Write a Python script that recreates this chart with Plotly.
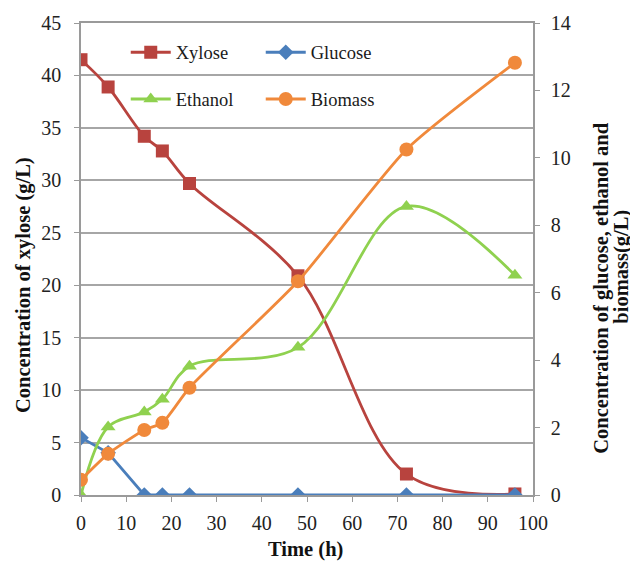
import plotly.graph_objects as go

time_h = [0, 6, 14, 18, 24, 48, 72, 96]
xylose = [41.5, 38.9, 34.2, 32.8, 29.7, 20.9, 2.0, 0.1]
glucose = [1.70, 1.25, 0.0, 0.0, 0.0, 0.0, 0.0, 0.0]
ethanol = [0.0, 2.02, 2.46, 2.84, 3.82, 4.38, 8.56, 6.52]
biomass = [0.45, 1.22, 1.93, 2.14, 3.18, 6.34, 10.25, 12.82]

x_title = "Time (h)"
y_title = "Concentration of xylose (g/L)"
y2_title_lines = ["Concentration of glucose, ethanol and", "biomass(g/L)"]

FONT = "Liberation Serif"
C_XYL = "#B8433E"
C_GLU = "#4A7EBB"
C_ETH = "#8FD14F"
C_BIO = "#F0893B"

fig = go.Figure()
fig.add_trace(go.Scatter(x=time_h, y=xylose, name="Xylose", mode="lines+markers",
                         line=dict(color=C_XYL, width=2.8, shape="spline", smoothing=1),
                         marker=dict(symbol="square", size=13, color=C_XYL),
                         yaxis="y", legend="legend"))
fig.add_trace(go.Scatter(x=time_h, y=glucose, name="Glucose", mode="lines+markers",
                         line=dict(color=C_GLU, width=2.8),
                         marker=dict(symbol="diamond", size=12, color=C_GLU),
                         yaxis="y2", legend="legend"))
fig.add_trace(go.Scatter(x=time_h, y=ethanol, name="Ethanol", mode="lines+markers",
                         line=dict(color=C_ETH, width=2.8, shape="spline", smoothing=1),
                         marker=dict(symbol="triangle-up", size=13, color=C_ETH),
                         yaxis="y2", legend="legend2"))
fig.add_trace(go.Scatter(x=time_h, y=biomass, name="Biomass", mode="lines+markers",
                         line=dict(color=C_BIO, width=2.8, shape="spline", smoothing=0.6),
                         marker=dict(symbol="circle", size=14, color=C_BIO),
                         yaxis="y2", legend="legend2"))

axis_font = dict(family=FONT, size=20, color="#222")
title_font = dict(family=FONT, size=20.5, color="#111", weight="bold")
legend_common = dict(orientation="h", bgcolor="rgba(0,0,0,0)", font=dict(family=FONT, size=18.5, color="#1a1a1a"),
                     entrywidth=80, entrywidthmode="pixels", itemwidth=40,
                     xanchor="left", yanchor="middle", tracegroupgap=0)

fig.update_layout(
    width=630, height=563,
    margin=dict(l=81, r=97, t=23, b=68),
    paper_bgcolor="white", plot_bgcolor="white",
    font=dict(family=FONT),
    xaxis=dict(range=[0, 100], dtick=10, tick0=0, showgrid=False, showline=True,
               linecolor="#9a9a9a", linewidth=1.5, mirror=True, ticks="outside", ticklen=5,
               tickcolor="#9a9a9a", tickfont=axis_font, zeroline=False, ticklabelstandoff=4),
    yaxis=dict(range=[0, 45], dtick=5, tick0=0, showgrid=True, gridcolor="#a6a6a6", gridwidth=1.5,
               showline=True, linecolor="#9a9a9a", linewidth=1.5, ticks="outside", ticklen=5,
               tickcolor="#9a9a9a", tickfont=axis_font, zeroline=False, ticklabelstandoff=9),
    yaxis2=dict(range=[0, 14], dtick=2, tick0=0, overlaying="y", side="right", showgrid=False,
                showline=True, linecolor="#9a9a9a", linewidth=1.5, ticks="outside", ticklen=5,
                tickcolor="#9a9a9a", tickfont=axis_font, zeroline=False, ticklabelstandoff=7),
    legend=dict(x=0.099, y=0.937, **legend_common),
    legend2=dict(x=0.099, y=0.838, **legend_common),
    annotations=[
        dict(text=x_title, xref="paper", yref="paper", x=0.4956, y=-0.1165,
             showarrow=False, font=title_font, xanchor="center", yanchor="middle"),
        dict(text=y_title, xref="paper", yref="paper", x=-0.126, y=0.445, textangle=-90,
             showarrow=False, font=title_font, xanchor="center", yanchor="middle"),
        dict(text=y2_title_lines[0], xref="paper", yref="paper", x=1.152, y=0.4386, textangle=-90,
             showarrow=False, font=title_font, xanchor="center", yanchor="middle"),
        dict(text=y2_title_lines[1], xref="paper", yref="paper", x=1.194, y=0.483, textangle=-90,
             showarrow=False, font=title_font, xanchor="center", yanchor="middle"),
    ],
)

fig.write_html("out.html", config={"displayModeBar": False},
               post_script="document.body.style.margin='0';document.body.style.overflow='hidden';")
